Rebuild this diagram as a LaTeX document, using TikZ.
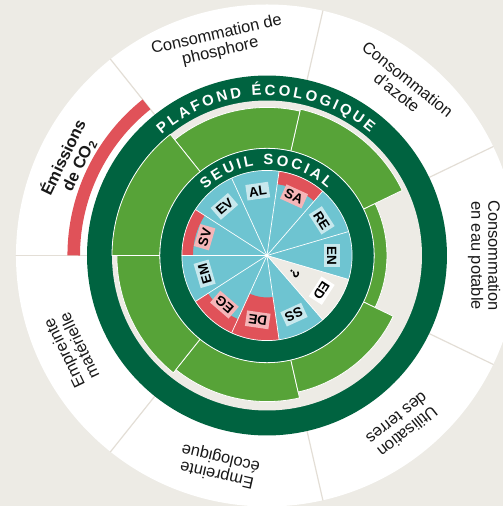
\documentclass[tikz,border=0pt]{standalone}
\usepackage{fontspec}
\setmainfont{Liberation Sans}
\setsansfont{Liberation Sans}
\usepackage{tikz}
\usetikzlibrary{decorations.text}
\definecolor{fondgris}{rgb}{0.93,0.92,0.9}
\definecolor{vertfonce}{rgb}{0,0.39,0.25}
\definecolor{vert}{rgb}{0.34,0.64,0.22}
\definecolor{bleu}{rgb}{0.43,0.77,0.82}
\definecolor{rouge}{rgb}{0.88,0.32,0.35}
\definecolor{rose}{rgb}{0.96,0.71,0.72}
\definecolor{bleupale}{rgb}{0.78,0.91,0.93}
\definecolor{trait}{rgb}{0.89,0.87,0.84}
\definecolor{texte}{rgb}{0.1,0.1,0.1}

\begin{document}
\begin{tikzpicture}[line cap=round,line join=round,x=1.0cm,y=1.0cm,scale=8.855,
  lab/.style={font=\bfseries\fontsize{13.5}{13.5}\selectfont,inner xsep=2.5pt,inner ysep=3pt,text height=9.7pt,text depth=0pt},
  outlab/.style={align=center,text=texte,font=\fontsize{16.5}{17}\selectfont,inner sep=0pt},
  vertbloc/.style={fill=vert,draw=white,line width=0.8pt}]

\useasboundingbox (-1.0637,-0.998) rectangle (0.9402,1.0179);
\clip (-1.0637,-0.998) rectangle (0.9402,1.0179);
\fill[fondgris] (-1.0637,-0.998) rectangle (0.9402,1.0179);
\fill[white] (0,0) circle (1);
% separations de l'anneau exterieur
\draw[trait,line width=1.2pt] (25.71:0.717) -- (25.71:1);
\draw[trait,line width=1.2pt] (77.14:0.717) -- (77.14:1);
\draw[trait,line width=1.2pt] (128.57:0.717) -- (128.57:1);
\draw[trait,line width=1.2pt] (180:0.717) -- (180:1);
\draw[trait,line width=1.2pt] (231.43:0.717) -- (231.43:1);
\draw[trait,line width=1.2pt] (282.86:0.717) -- (282.86:1);
\draw[trait,line width=1.2pt] (334.29:0.717) -- (334.29:1);
% depassement CO2
\fill[rouge] (128.57:0.745) arc (128.57:180:0.745) -- (180:0.795) arc (180:128.57:0.795) -- cycle;
% plafond ecologique
\fill[vertfonce] (0,0) circle (0.717);
\fill[fondgris] (0,0) circle (0.6175);
\filldraw[vertbloc] (-25.71:0.426) -- (-25.71:0.478) arc (-25.71:25.71:0.478) -- (25.71:0.426) arc (25.71:-25.71:0.426) -- cycle;
\filldraw[vertbloc] (25.71:0.426) -- (25.71:0.598) arc (25.71:77.14:0.598) -- (77.14:0.426) arc (77.14:25.71:0.426) -- cycle;
\filldraw[vertbloc] (77.14:0.426) -- (77.14:0.59) arc (77.14:128.57:0.59) -- (128.57:0.426) arc (128.57:77.14:0.426) -- cycle;
\filldraw[vertbloc] (128.57:0.426) -- (128.57:0.6175) arc (128.57:180:0.6175) -- (180:0.426) arc (180:128.57:0.426) -- cycle;
\filldraw[vertbloc] (180:0.426) -- (180:0.598) arc (180:231.43:0.598) -- (231.43:0.426) arc (231.43:180:0.426) -- cycle;
\filldraw[vertbloc] (231.43:0.426) -- (231.43:0.582) arc (231.43:282.86:0.582) -- (282.86:0.426) arc (282.86:231.43:0.426) -- cycle;
\filldraw[vertbloc] (282.86:0.426) -- (282.86:0.558) arc (282.86:334.29:0.558) -- (334.29:0.426) arc (334.29:282.86:0.426) -- cycle;
% seuil social
\filldraw[fill=vertfonce,draw=white,line width=0.8pt] (0,0) circle (0.427);
\fill[bleu] (0,0) circle (0.339);
\fill[fondgris] (0,0) -- (310.91:0.339) arc (310.91:343.64:0.339) -- cycle;
\fill[rouge] (49.09:0.287) -- (49.09:0.339) arc (49.09:81.82:0.339) -- (81.82:0.287) arc (81.82:49.09:0.287) -- cycle;
\fill[rouge] (147.27:0.295) -- (147.27:0.339) arc (147.27:180:0.339) -- (180:0.295) arc (180:147.27:0.295) -- cycle;
\fill[rouge] (212.73:0.279) -- (212.73:0.339) arc (212.73:245.45:0.339) -- (245.45:0.279) arc (245.45:212.73:0.279) -- cycle;
\fill[rouge] (245.45:0.167) -- (245.45:0.339) arc (245.45:278.18:0.339) -- (278.18:0.167) arc (278.18:245.45:0.167) -- cycle;
\draw[white,line width=0.7pt] (0,0) -- (16.36:0.339);
\draw[white,line width=0.7pt] (0,0) -- (49.09:0.339);
\draw[white,line width=0.7pt] (0,0) -- (81.82:0.339);
\draw[white,line width=0.7pt] (0,0) -- (114.55:0.339);
\draw[white,line width=0.7pt] (0,0) -- (147.27:0.339);
\draw[white,line width=0.7pt] (0,0) -- (180:0.339);
\draw[white,line width=0.7pt] (0,0) -- (212.73:0.339);
\draw[white,line width=0.7pt] (0,0) -- (245.45:0.339);
\draw[white,line width=0.7pt] (0,0) -- (278.18:0.339);
\draw[white,line width=0.7pt] (0,0) -- (310.91:0.339);
\draw[white,line width=0.7pt] (0,0) -- (343.64:0.339);
\draw[white,line width=0.7pt] (0,0) circle (0.339);
\fill[white] (0,0) circle (0.007);
% titres des anneaux
\path[decorate,decoration={text along path,text align={fit to path},text color=white,
  text={|\bfseries\fontsize{15}{15}\selectfont|PLAFOND ÉCOLOGIQUE}}] (131:0.639) arc (131:50:0.639);
\path[decorate,decoration={text along path,text align={fit to path},text color=white,
  text={|\bfseries\fontsize{15}{15}\selectfont|SEUIL SOCIAL}}] (133:0.361) arc (133:48:0.361);
% etiquettes sociales
\node[lab,fill=bleupale,rotate=-90] (en) at (0:0.259) {EN};
\node[lab,fill=bleupale,rotate=-57.27] (re) at (32.73:0.259) {RE};
\node[lab,fill=rose,rotate=-24.55] (sa) at (65.45:0.259) {SA};
\node[lab,fill=bleupale,rotate=8.18] (al) at (98.18:0.259) {AL};
\node[lab,fill=bleupale,rotate=40.91] (ev) at (130.91:0.259) {EV};
\node[lab,fill=rose,rotate=73.64] (sv) at (163.64:0.259) {SV};
\node[lab,fill=bleupale,rotate=106.36] (em) at (196.36:0.259) {EM};
\node[lab,fill=rose,rotate=139.09] (eg) at (229.09:0.259) {EG};
\node[lab,fill=rose,rotate=171.82] (de) at (261.82:0.259) {DE};
\node[lab,fill=bleupale,rotate=204.55] (ss) at (294.55:0.259) {SS};
\node[lab,fill=white,rotate=237.27] (ed) at (327.27:0.259) {ED};
\node[lab,rotate=237.27] (nd) at (327.27:0.131) {?};
% etiquettes ecologiques
\node[outlab,rotate=-90] (eau) at (0:0.865) {Consommation\\en eau potable};
\node[outlab,rotate=-38.57] (azote) at (51.43:0.865) {Consommation\\d'azote};
\node[outlab,rotate=12.86] (phos) at (102.86:0.868) {Consommation de\\phosphore};
\node[outlab,font=\bfseries\fontsize{16.5}{17}\selectfont,rotate=64.29] (co2) at (154.29:0.868) {Émissions\\de CO\textsubscript{2}};
\node[outlab,rotate=115.71] (mat) at (205.71:0.865) {Empreinte\\matérielle};
\node[outlab,rotate=167.14] (eco) at (257.14:0.86) {Empreinte\\écologique};
\node[outlab,rotate=218.57] (terres) at (308.57:0.865) {Utilisation\\des terres};
\end{tikzpicture}
\end{document}
